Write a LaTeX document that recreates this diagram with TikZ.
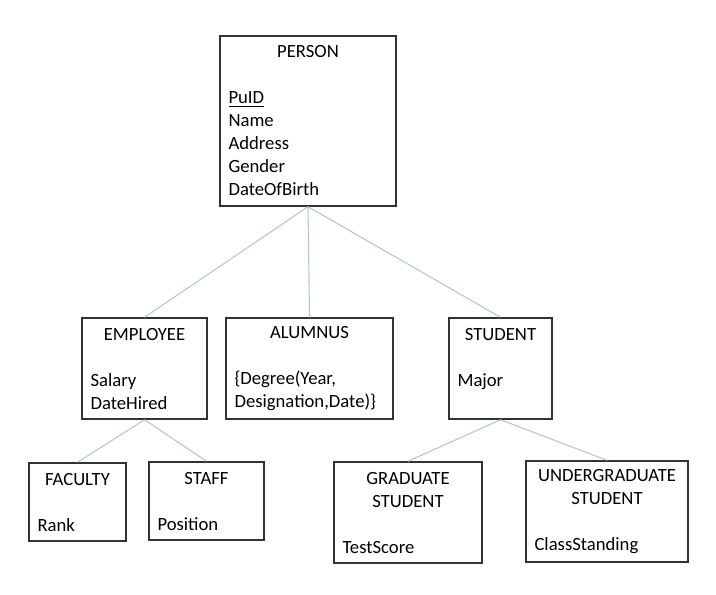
\documentclass[tikz,border=0pt]{standalone}
\usepackage{fontspec}
\setmainfont{Carlito}
\usepackage{xcolor}
\usepackage{tikz}
\usetikzlibrary{positioning}

\definecolor{linkblue}{RGB}{175,198,222}
\definecolor{boxgray}{RGB}{50,50,50}
\newcommand{\enttitle}[1]{\makebox[\linewidth][c]{#1}}

\begin{document}
\begin{tikzpicture}[
    x=0.75pt, y=-0.75pt,
    entity/.style={rectangle, draw=boxgray, line width=1.1pt, inner xsep=6.4pt, inner ysep=2pt, align=left, font=\fontsize{14}{17.25}\selectfont},
    tall/.style={entity, minimum height=75.75pt},
    short/.style={entity, minimum height=58.5pt},
    link/.style={draw=linkblue, line width=0.8pt}
]
    \useasboundingbox (0,0) rectangle (716,594);

    % Top Layer (Supertype)
    \node[entity, text width=119.2pt, minimum height=127.5pt] (person) at (308,121) {\enttitle{PERSON}\\[\baselineskip]\underline{PuID}\\Name\\Address\\Gender\\DateOfBirth};

    % Middle Layer (Subtypes of Person)
    \node[tall, text width=80.95pt] (employee) at (144.5,368.5) {\enttitle{EMPLOYEE}\\[\baselineskip]Salary\\DateHired};
    \node[tall, text width=112.45pt] (alumnus) at (309.5,368.5) {\enttitle{ALUMNUS}\\[\baselineskip]\{Degree(Year,\\Designation,Date)\}};
    \node[tall, text width=64.45pt] (student) at (500.5,368.5) {\enttitle{STUDENT}\\[\baselineskip]Major\\\mbox{}};

    % Bottom Layer (Subtypes of Employee and Student)
    \node[short, text width=59.95pt] (faculty) at (77.5,502) {\enttitle{FACULTY}\\[\baselineskip]Rank};
    \node[short, text width=73.45pt] (staff) at (206.5,501) {\enttitle{STAFF}\\[\baselineskip]Position};
    \node[tall, text width=98.2pt] (grad) at (408,512.5) {\enttitle{GRADUATE}\\\enttitle{STUDENT}\\[\baselineskip]TestScore};
    \node[tall, text width=108.7pt] (undergrad) at (607,511.5) {\enttitle{UNDERGRADUATE}\\\enttitle{STUDENT}\\[\baselineskip]ClassStanding};

    % Connections
    \draw[link] (person.south) -- (employee.north);
    \draw[link] (person.south) -- (alumnus.north);
    \draw[link] (person.south) -- (student.north);
    \draw[link] (employee.south) -- (faculty.north);
    \draw[link] (employee.south) -- (staff.north);
    \draw[link] (student.south) -- (grad.north);
    \draw[link] (student.south) -- (undergrad.north);
\end{tikzpicture}
\end{document}
